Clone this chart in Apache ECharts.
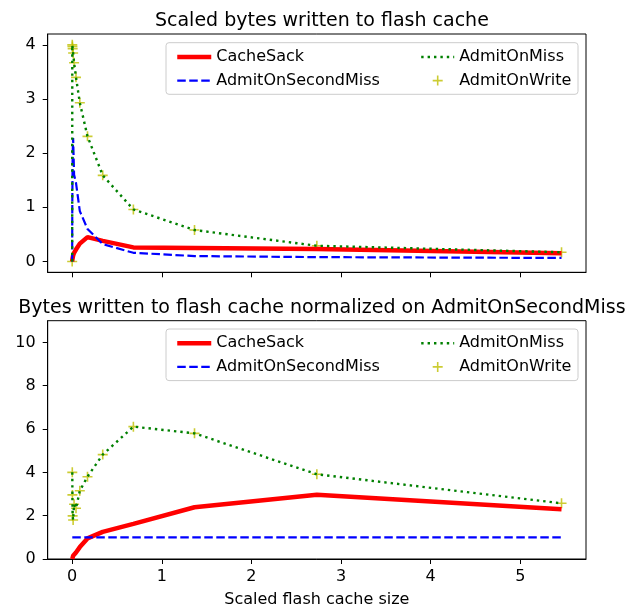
<!DOCTYPE html>
<html>
<head>
<meta charset="utf-8">
<script src="https://cdn.jsdelivr.net/npm/echarts@6.0.0/dist/echarts.min.js"></script>
<style>
  html, body { margin: 0; padding: 0; background: #fff; }
  #main { width: 626px; height: 606px; }
</style>
</head>
<body>
<div id="main"></div>
<script>
// scaled flash cache sizes (x)
var sizesTop = [0, 0.00133, 0.00267, 0.00533, 0.0107, 0.0213, 0.0427, 0.0853, 0.171, 0.341, 0.683, 1.365, 2.73, 5.46];
var sizesNorm = [0.00133, 0.00267, 0.00533, 0.0107, 0.0213, 0.0427, 0.0853, 0.171, 0.341, 0.683, 1.365, 2.73, 5.46];

// top: scaled bytes written
var cacheSackTop = [0, 0.02, 0.04, 0.07, 0.11, 0.16, 0.22, 0.33, 0.45, 0.38, 0.26, 0.25, 0.23, 0.15];
var secondMissTop = [0, 1.0, 1.34, 1.97, 2.28, 1.6, 1.45, 0.93, 0.6, 0.32, 0.16, 0.1, 0.08, 0.065];
var onMissTop = [0, 4.0, 3.97, 3.93, 3.85, 3.67, 3.40, 2.93, 2.31, 1.59, 0.96, 0.58, 0.29, 0.17];
var onWriteTop = [0, 4.0, 3.97, 3.93, 3.85, 3.67, 3.40, 2.93, 2.31, 1.59, 0.96, 0.58, 0.29, 0.17];

// bottom: normalized on AdmitOnSecondMiss
var cacheSackNorm = [0, 0.03, 0.08, 0.15, 0.22, 0.3, 0.55, 0.95, 1.25, 1.62, 2.39, 2.97, 2.30];
var secondMissNorm = [1, 1, 1, 1, 1, 1, 1, 1, 1, 1, 1, 1, 1];
var onMissNorm = [4.0, 2.96, 1.99, 1.80, 2.53, 2.34, 3.15, 3.80, 4.82, 6.11, 5.80, 3.91, 2.57];
var onWriteNorm = [4.0, 2.96, 1.99, 1.80, 2.53, 2.34, 3.15, 3.80, 4.82, 6.11, 5.80, 3.91, 2.57];

// tick labels
var xTicks = [0, 1, 2, 3, 4, 5];
var topYTicks = [0, 1, 2, 3, 4];
var normYTicks = [0, 2, 4, 6, 8, 10];

var font = 'DejaVu Sans';
var plus = 'path://M4.2,0H5.8V4.2H10V5.8H5.8V10H4.2V5.8H0V4.2H4.2Z';

function pairs(xs, ys) {
  return xs.map(function (x, i) { return [x, ys[i]]; });
}

var chart = echarts.init(document.getElementById('main'), null, { renderer: 'canvas' });

function xAxisOf(idx, withLabels) {
  var ax = {
    type: 'value', gridIndex: idx, min: -0.273, max: 5.733,
    axisLine: { show: true, onZero: false, lineStyle: { color: '#000', width: 1 } },
    axisTick: { show: true, length: 5, customValues: xTicks, lineStyle: { color: '#000' } },
    axisLabel: { show: withLabels, customValues: xTicks, margin: 10, color: '#000', fontSize: 16, fontFamily: font },
    splitLine: { show: false }
  };
  if (withLabels) {
    ax.name = 'Scaled flash cache size';
    ax.nameLocation = 'middle';
    ax.nameGap = 33;
    ax.nameTextStyle = { color: '#000', fontSize: 16, fontFamily: font };
  }
  return ax;
}

function yAxisOf(idx, min, max, ticks) {
  return {
    type: 'value', gridIndex: idx, min: min, max: max,
    axisLine: { show: true, onZero: false, lineStyle: { color: '#000', width: 1 } },
    axisTick: { show: true, length: 5, customValues: ticks, lineStyle: { color: '#000' } },
    axisLabel: { customValues: ticks, margin: 12, color: '#000', fontSize: 16, fontFamily: font },
    splitLine: { show: false }
  };
}

function seriesOf(idx, xs, cs, sm, om, ow) {
  return [
    { name: 'CacheSack', type: 'line', xAxisIndex: idx, yAxisIndex: idx, data: pairs(xs, cs),
      symbol: 'none', lineStyle: { color: '#ff0000', width: 4.5 }, itemStyle: { color: '#ff0000' } },
    { name: 'AdmitOnSecondMiss', type: 'line', xAxisIndex: idx, yAxisIndex: idx, data: pairs(xs, sm),
      symbol: 'none', lineStyle: { color: '#0000ff', width: 2.2, type: [8.5, 3.5] }, itemStyle: { color: '#0000ff' } },
    { name: 'AdmitOnMiss', type: 'line', xAxisIndex: idx, yAxisIndex: idx, data: pairs(xs, om),
      symbol: 'none', lineStyle: { color: '#008000', width: 2.4, type: [2.4, 4] }, itemStyle: { color: '#008000' } },
    { name: 'AdmitOnWrite', type: 'scatter', xAxisIndex: idx, yAxisIndex: idx, data: pairs(xs, ow),
      symbol: plus, symbolSize: 10, itemStyle: { color: '#bfbf00' } }
  ];
}

function legendsOf(top) {
  var base = { orient: 'vertical', top: top, itemGap: 7.6, z: 10,
    textStyle: { color: '#000', fontSize: 16, fontFamily: font } };
  return [
    Object.assign({}, base, { left: 170, itemWidth: 34, itemHeight: 14,
      data: [
        { name: 'CacheSack', itemStyle: { opacity: 0 }, lineStyle: { width: 4.5, color: '#ff0000' } },
        { name: 'AdmitOnSecondMiss', itemStyle: { opacity: 0 }, lineStyle: { width: 2.2, color: '#0000ff', type: [8.5, 3.5] } }
      ] }),
    Object.assign({}, base, { left: 415, itemWidth: 33, itemHeight: 10,
      data: [
        { name: 'AdmitOnMiss', itemStyle: { opacity: 0 }, lineStyle: { width: 2.4, color: '#008000', type: [2.4, 4] } },
        { name: 'AdmitOnWrite', icon: plus }
      ] })
  ];
}

var option = {
  animation: false,
  title: [
    { text: 'Scaled bytes written to flash cache', left: 316.9, top: 7, textAlign: 'center',
      textStyle: { color: '#000', fontSize: 19, fontWeight: 'normal', fontFamily: font } },
    { text: 'Bytes written to flash cache normalized on AdmitOnSecondMiss', left: 316.9, top: 294, textAlign: 'center',
      textStyle: { color: '#000', fontSize: 19, fontWeight: 'normal', fontFamily: font } }
  ],
  grid: [
    { left: 47.7, top: 34, width: 538.3, height: 238.3, show: true, borderColor: '#000', borderWidth: 1,
      backgroundColor: 'transparent', outerBoundsMode: 'none' },
    { left: 47.7, top: 320.7, width: 538.3, height: 238.3, show: true, borderColor: '#000', borderWidth: 1,
      backgroundColor: 'transparent', outerBoundsMode: 'none' }
  ],
  xAxis: [xAxisOf(0, false), xAxisOf(1, true)],
  yAxis: [yAxisOf(0, -0.2, 4.2, topYTicks), yAxisOf(1, 0, 11, normYTicks)],
  legend: legendsOf(44).concat(legendsOf(330.3)),
  graphic: [
    { type: 'rect', z: 5, shape: { x: 166, y: 42.7, width: 412, height: 51.6, r: 3 },
      style: { fill: 'rgba(255,255,255,0.8)', stroke: '#cccccc', lineWidth: 1 } },
    { type: 'rect', z: 5, shape: { x: 166, y: 329, width: 412, height: 51.6, r: 3 },
      style: { fill: 'rgba(255,255,255,0.8)', stroke: '#cccccc', lineWidth: 1 } }
  ],
  series: seriesOf(0, sizesTop, cacheSackTop, secondMissTop, onMissTop, onWriteTop)
    .concat(seriesOf(1, sizesNorm, cacheSackNorm, secondMissNorm, onMissNorm, onWriteNorm))
};

chart.setOption(option);
</script>
</body>
</html>
